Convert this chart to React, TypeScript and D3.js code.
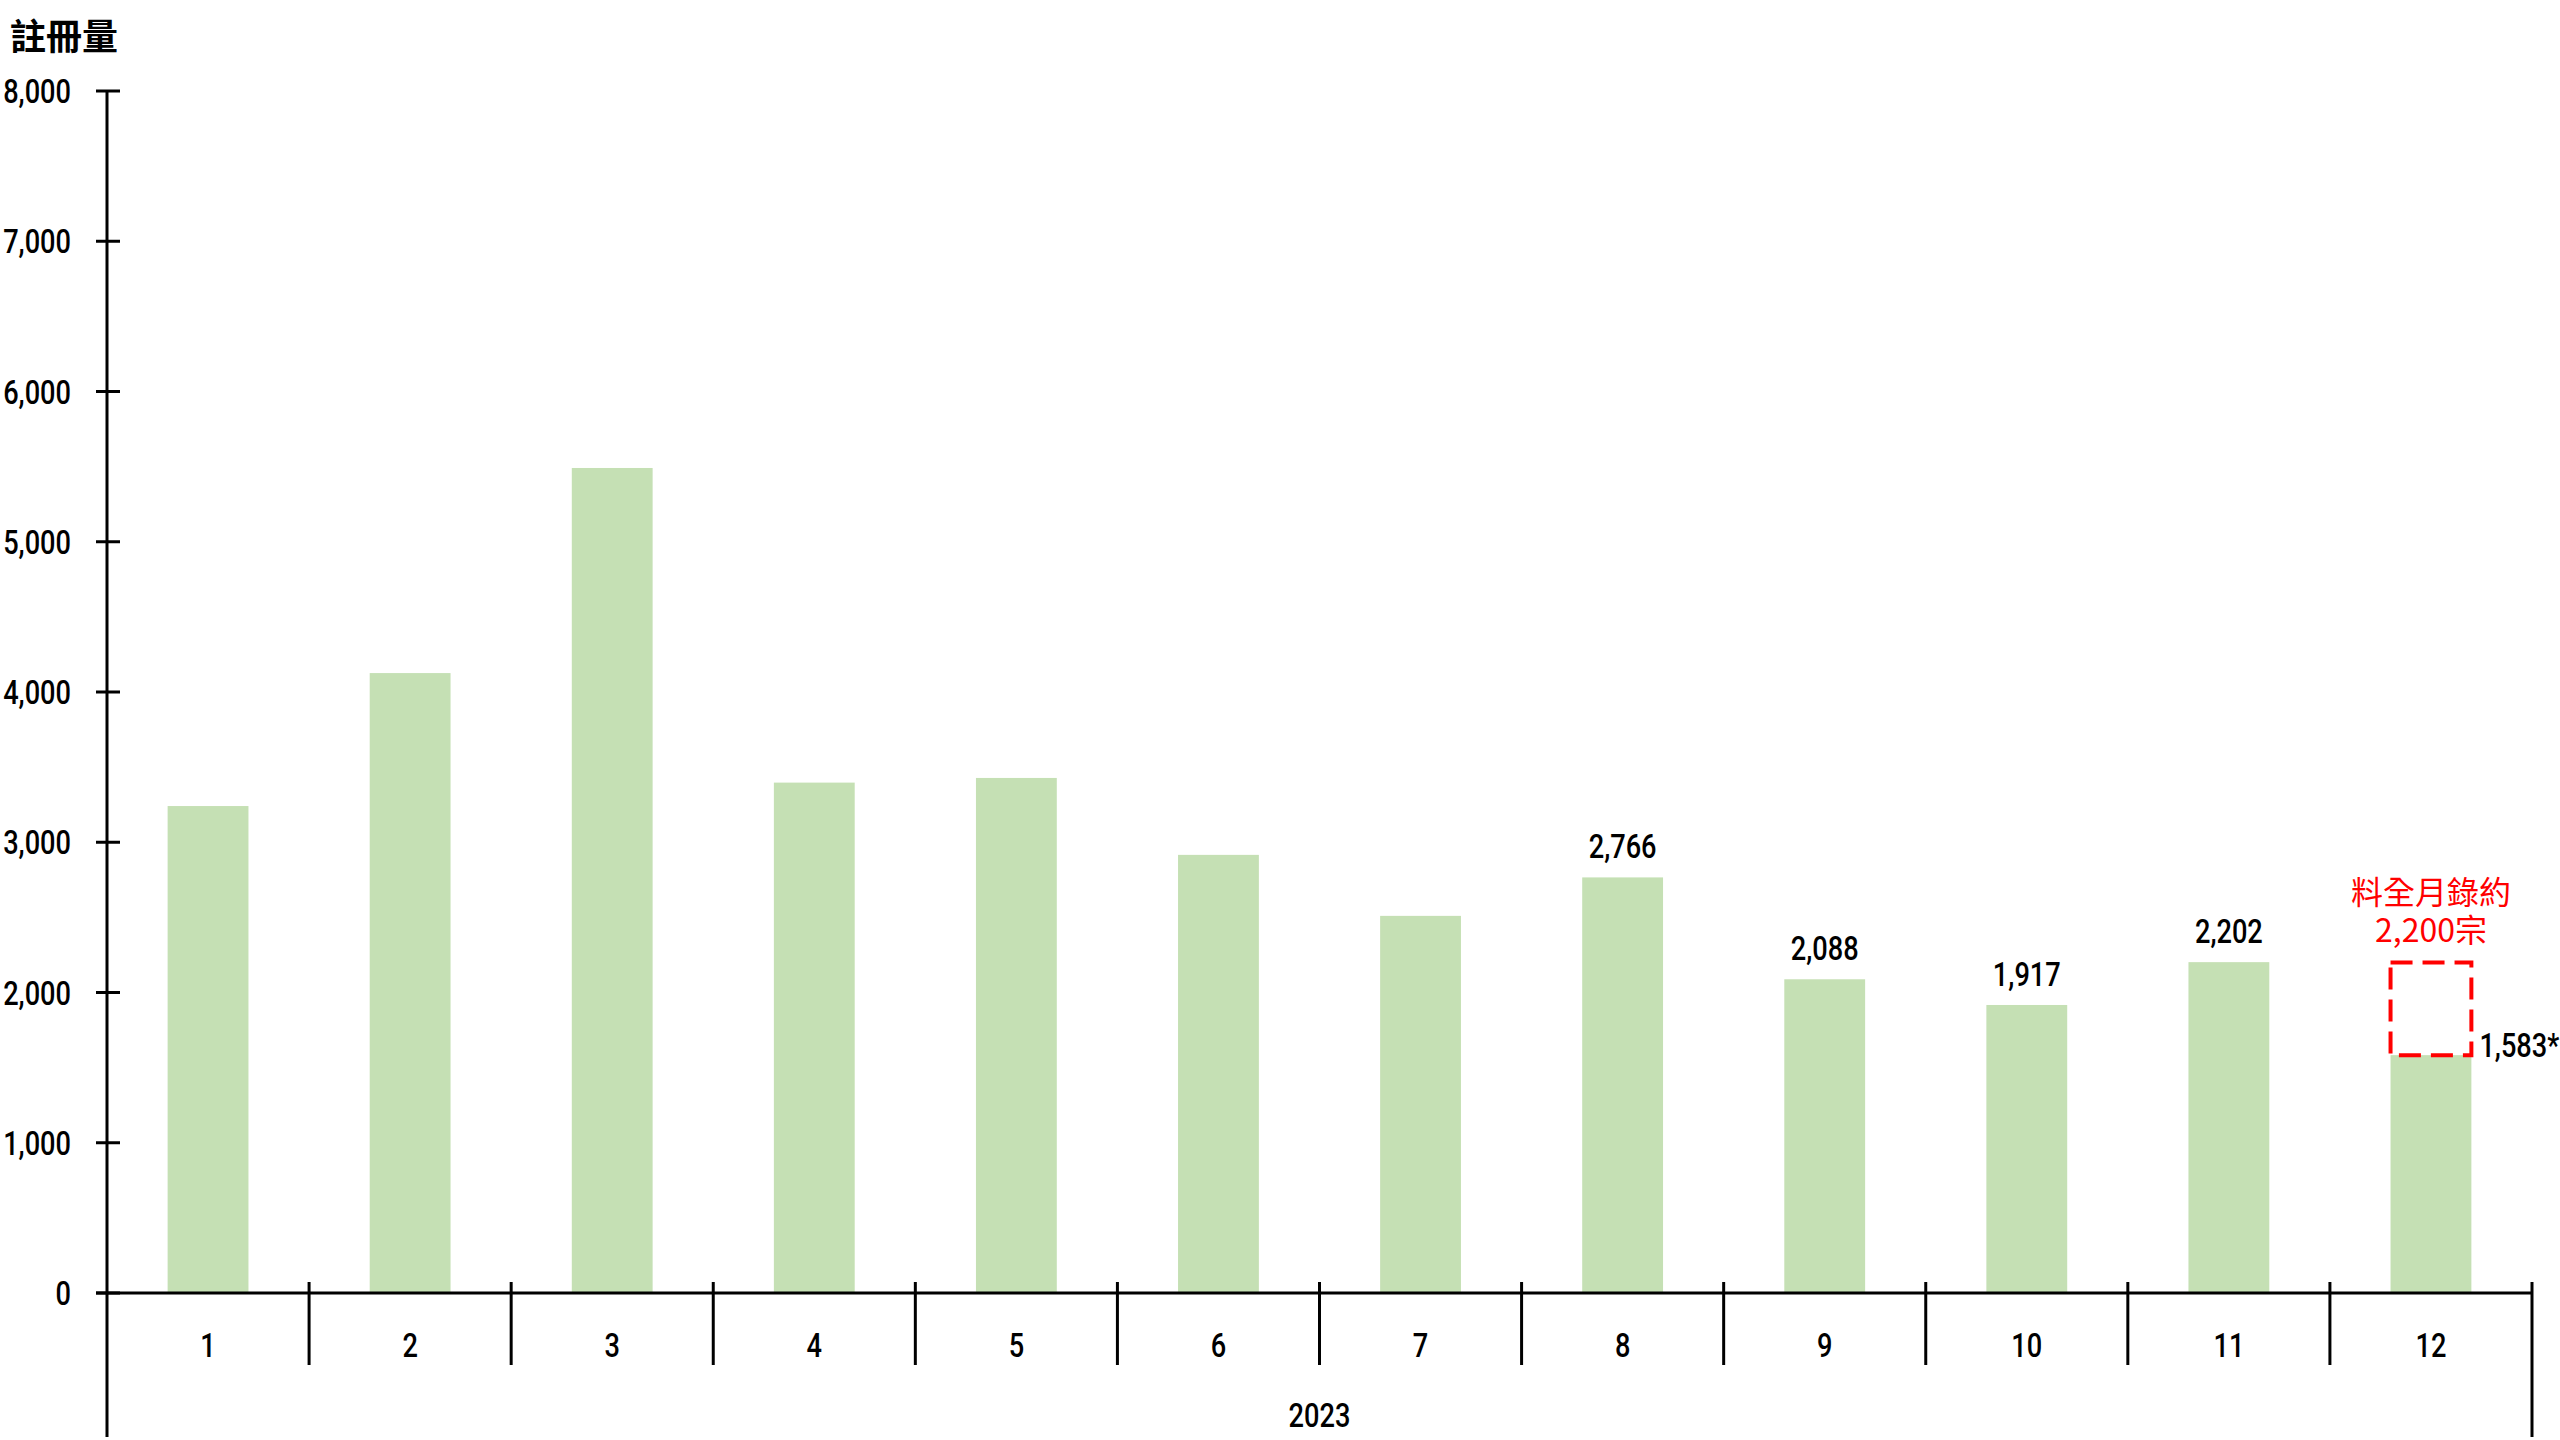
import React from "react";
import * as d3 from "d3";

const months = ["1", "2", "3", "4", "5", "6", "7", "8", "9", "10", "11", "12"];
const values = [3241, 4126, 5491, 3397, 3428, 2916, 2510, 2766, 2088, 1917, 2202, 1583];
const valueLabels = ["", "", "", "", "", "", "", "2,766", "2,088", "1,917", "2,202", ""];
const yTicks = [0, 1000, 2000, 3000, 4000, 5000, 6000, 7000, 8000];
const estimateValue = 2200;
const estimateLines = ["料全月錄約", "2,200宗"];
const lastLabel = "1,583*";
const yearLabel = "2023";
const yTitle = "註冊量";

const W = 2560;
const H = 1440;
const FONT = "Roboto, 'DejaVu Sans', sans-serif";
const CJK = "'Noto Sans CJK TC', 'Noto Sans', sans-serif";
const SX = 0.8;

function CText({ x, y, anchor = "middle", size = 34, children }: { x: number; y: number; anchor?: string; size?: number; children: React.ReactNode }) {
  return (
    <text transform={`translate(${x},${y}) scale(${SX},1)`} textAnchor={anchor} fontFamily={FONT} fontWeight={500} fontSize={size} fill="#000">
      {children}
    </text>
  );
}

export default function App() {
  const x = d3.scaleBand<string>().domain(months).range([107, 2532]).paddingInner(0).paddingOuter(0);
  const y = d3.scaleLinear().domain([0, 8000]).range([1293, 91]);
  const bw = x.bandwidth() * 0.4;
  const fmt = d3.format(",");
  const last = months[months.length - 1];
  const lastCx = (x(last) as number) + x.bandwidth() / 2;

  return (
    <svg width={W} height={H} style={{ position: "absolute", left: 0, top: 0, background: "#fff" }}>
      <text x={10} y={50} fontFamily={CJK} fontWeight={700} fontSize={36} fill="#000">{yTitle}</text>

      {months.map((m, i) => {
        const cx = (x(m) as number) + x.bandwidth() / 2;
        return (
          <g key={m}>
            <rect x={cx - bw / 2} y={y(values[i])} width={bw} height={y(0) - y(values[i])} fill="#c5e0b4" />
            {valueLabels[i] && <CText x={cx} y={y(values[i]) - 19}>{valueLabels[i]}</CText>}
            <CText x={cx} y={1357}>{m}</CText>
          </g>
        );
      })}

      {/* estimate box */}
      <rect x={lastCx - bw / 2} y={y(estimateValue)} width={bw} height={y(values[11]) - y(estimateValue)}
        fill="none" stroke="#ff0000" strokeWidth={4} strokeDasharray="22 10" />
      {estimateLines.map((t, i) => (
        <text key={i} x={lastCx} y={904 + i * 38} textAnchor="middle" fontFamily={CJK} fontSize={32} fill="#ff0000">{t}</text>
      ))}
      <CText x={lastCx + bw / 2 + 8} y={1057} anchor="start">{lastLabel}</CText>

      {/* y axis */}
      <line x1={107} x2={107} y1={y(8000)} y2={1437} stroke="#000" strokeWidth={3} />
      {yTicks.map((t) => (
        <g key={t}>
          <line x1={96} x2={120} y1={y(t)} y2={y(t)} stroke="#000" strokeWidth={3} />
          <CText x={71} y={y(t) + 12} anchor="end">{fmt(t)}</CText>
        </g>
      ))}

      {/* x axis */}
      <line x1={96} x2={2532} y1={y(0)} y2={y(0)} stroke="#000" strokeWidth={3} />
      {months.slice(1).map((m) => (
        <line key={m} x1={x(m) as number} x2={x(m) as number} y1={1282} y2={1365} stroke="#000" strokeWidth={3} />
      ))}
      <line x1={2532} x2={2532} y1={1282} y2={1437} stroke="#000" strokeWidth={3} />
      <CText x={(107 + 2532) / 2} y={1427}>{yearLabel}</CText>
    </svg>
  );
}
